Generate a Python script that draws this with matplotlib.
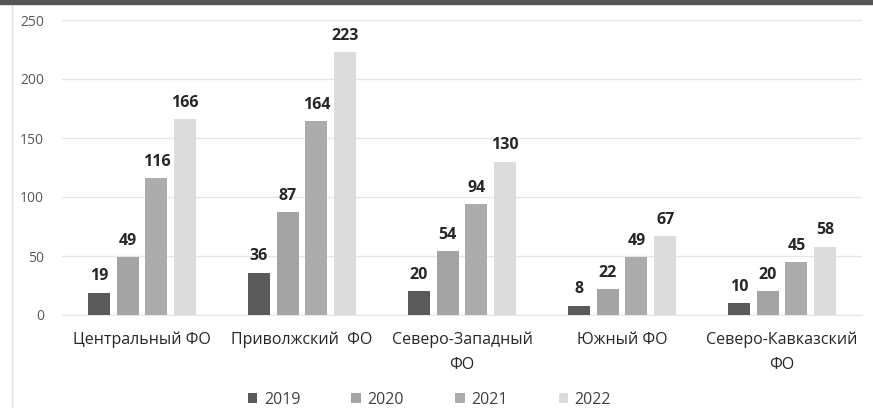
import numpy as np
import matplotlib.pyplot as plt

plt.rcParams['font.family'] = ['Open Sans', 'DejaVu Sans']

# данные
districts = ['Центральный ФО', 'Приволжский  ФО', 'Северо-Западный\nФО',
             'Южный ФО', 'Северо-Кавказский\nФО']
years = ['2019', '2020', '2021', '2022']
v2019 = [19, 36, 20, 8, 10]
v2020 = [49, 87, 54, 22, 20]
v2021 = [116, 164, 94, 49, 45]
v2022 = [166, 223, 130, 67, 58]
series = [v2019, v2020, v2021, v2022]
colors = ['#5a5a5a', '#a4a4a4', '#acacac', '#dcdcdc']

fig = plt.figure(figsize=(8.73, 4.08), dpi=100)
ax = fig.add_axes([62/873, 1 - 315/408, 800/873, 295/408])

x = np.arange(len(districts))
step = 0.18
width = 0.1375
for i, (vals, col, yr) in enumerate(zip(series, colors, years)):
    pos = x + (i - 1.5) * step
    bars = ax.bar(pos, vals, width, color=col, label=yr, zorder=3)
    for b, v in zip(bars, vals):
        ax.text(b.get_x() + b.get_width()/2, v + 7, str(v), ha='center', va='bottom',
                fontsize=11.5, fontweight='bold', color='#262626')

ax.set_xlim(-0.5, len(districts) - 0.5)
ax.set_ylim(0, 250)
ax.set_yticks(range(0, 251, 50))
ax.yaxis.grid(True, color='#e6e6e6', lw=1, zorder=0)
ax.tick_params(axis='y', length=0, labelsize=10, labelcolor='#595959', pad=13)
ax.tick_params(axis='x', length=0, labelsize=11.5, labelcolor='#262626', pad=12)
ax.set_xticks(x)
ax.set_xticklabels(districts, linespacing=1.75)
for s in ['top', 'right', 'left']:
    ax.spines[s].set_visible(False)
ax.spines['bottom'].set_color('#e6e6e6')

fig.legend(loc='lower center', bbox_to_anchor=(0.492, -0.035), ncol=4, frameon=False,
           fontsize=11.5, handlelength=0.6, handleheight=0.6, columnspacing=3.2,
           handletextpad=0.4, labelcolor='#404040')

# тёмная полоса сверху и рамка слева
fig.patches.append(plt.Rectangle((0, 1 - 4/408), 1, 4/408, transform=fig.transFigure,
                                 color='#555555', zorder=5))
fig.add_artist(plt.Line2D([12/873, 12/873], [0, 1 - 4/408], color='#e0e0e0', lw=1))

fig.savefig('out.png', dpi=100)
